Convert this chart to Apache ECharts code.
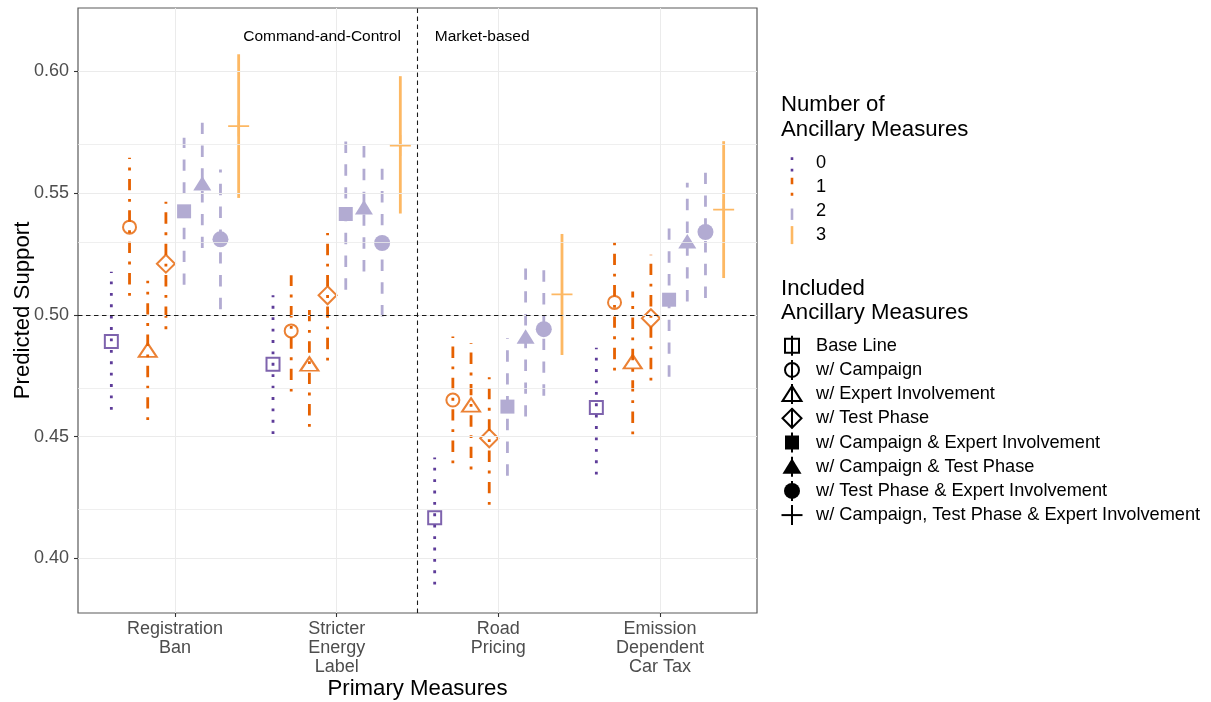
<!DOCTYPE html>
<html>
<head>
<meta charset="utf-8">
<script src="https://cdn.jsdelivr.net/npm/echarts@6/dist/echarts.min.js"></script>
<style>
  html, body { margin: 0; padding: 0; background: #fff; }
  #chart { width: 1211px; height: 702px; }
</style>
</head>
<body>
<div id="chart"></div>
<script>
// ---------------- DATA ----------------
const categories = ['Registration\nBan', 'Stricter\nEnergy\nLabel', 'Road\nPricing', 'Emission\nDependent\nCar Tax'];
const ancillaryMeasures = [
  'Base Line',
  'w/ Campaign',
  'w/ Expert Involvement',
  'w/ Test Phase',
  'w/ Campaign & Expert Involvement',
  'w/ Campaign & Test Phase',
  'w/ Test Phase & Expert Involvement',
  'w/ Campaign, Test Phase & Expert Involvement'
];
const numberOfMeasures = [0, 1, 1, 1, 2, 2, 2, 3];
const numberLevels = ['0', '1', '2', '3'];

const estRegistrationBan  = [0.489, 0.536, 0.4855, 0.521, 0.5425, 0.554, 0.531, 0.5775];
const lowRegistrationBan  = [0.461, 0.5078, 0.4568, 0.4941, 0.5123, 0.5274, 0.5023, 0.548];
const highRegistrationBan = [0.5177, 0.5645, 0.514, 0.5464, 0.5727, 0.5791, 0.5597, 0.607];

const estEnergyLabel  = [0.4797, 0.4934, 0.4798, 0.508, 0.5414, 0.5442, 0.5295, 0.5695];
const lowEnergyLabel  = [0.451, 0.4685, 0.454, 0.4812, 0.5103, 0.5178, 0.4993, 0.5416];
const highEnergyLabel = [0.508, 0.5162, 0.502, 0.5336, 0.5713, 0.5693, 0.56, 0.598];

const estRoadPricing  = [0.4167, 0.465, 0.463, 0.4493, 0.4623, 0.4911, 0.4941, 0.5084];
const lowRoadPricing  = [0.3892, 0.439, 0.4365, 0.422, 0.4339, 0.4582, 0.4668, 0.4835];
const highRoadPricing = [0.4414, 0.4911, 0.4883, 0.4744, 0.4904, 0.5195, 0.5185, 0.5332];

const estCarTax  = [0.4619, 0.5051, 0.4808, 0.4986, 0.5062, 0.5302, 0.534, 0.5432];
const lowCarTax  = [0.4344, 0.4771, 0.4509, 0.473, 0.4746, 0.5055, 0.5069, 0.5151];
const highCarTax = [0.4865, 0.5332, 0.5096, 0.5247, 0.5357, 0.5542, 0.5583, 0.5713];

const yTicks = [0.40, 0.45, 0.50, 0.55, 0.60];
const yMinorGrid = [0.425, 0.475, 0.525, 0.575, 0.625];
const referenceY = 0.5;
const referenceX = 2.5;
const annotations = [
  { x: 2.397, y: 0.6142, text: 'Command-and-Control', align: 'right' },
  { x: 2.607, y: 0.6142, text: 'Market-based', align: 'left' }
];

const est  = [estRegistrationBan, estEnergyLabel, estRoadPricing, estCarTax];
const low  = [lowRegistrationBan, lowEnergyLabel, lowRoadPricing, lowCarTax];
const high = [highRegistrationBan, highEnergyLabel, highRoadPricing, highCarTax];

// ---------------- STYLE ----------------
const FONT = '"Liberation Sans", Arial, sans-serif';
const levelColors = ['#5E3C99', '#E66101', '#B2ABD2', '#FDB863'];
const U = 2.85;
const levelDash = [[U, 3 * U], [U, 3 * U, 4 * U, 3 * U], [4 * U, 4 * U], null];
const ERR_W = 2.8;
const dodgeStep = 0.1125;
const plusPath = 'path://M0,10 L22,10 L22,12 L0,12 Z M10,0 L12,0 L12,22 L10,22 Z';
const shapeStyles = [
  { symbol: 'rect', size: 13, open: true },
  { symbol: 'circle', size: 13, open: true },
  { symbol: 'triangle', size: [18, 13.5], open: true },
  { symbol: 'diamond', size: 18, open: true },
  { symbol: 'rect', size: 14, open: false },
  { symbol: 'triangle', size: [18, 14.5], open: false },
  { symbol: 'circle', size: 16, open: false },
  { symbol: plusPath, size: 21, open: false }
];

const series = [];

// grid lines + reference lines (drawn via library scales)
series.push({
  type: 'scatter', data: [], silent: true, z: 0,
  markLine: {
    silent: true, symbol: 'none', label: { show: false }, animation: false,
    lineStyle: { color: '#ebebeb', width: 1, type: 'solid' },
    data: [
      ...yTicks.map(v => ({ yAxis: v })),
      ...yMinorGrid.map(v => ({ yAxis: v, lineStyle: { color: '#ebebeb', width: 0.8 } })),
      ...categories.map((c, i) => ({ xAxis: i + 1 }))
    ]
  }
});
series.push({
  type: 'scatter', data: [], silent: true, z: 1,
  markLine: {
    silent: true, symbol: 'none', label: { show: false }, animation: false,
    lineStyle: { color: '#1a1a1a', width: 1.1, type: [4.5, 3.5] },
    data: [{ yAxis: referenceY }, { xAxis: referenceX }]
  }
});

// annotations
series.push({
  type: 'custom', z: 5, silent: true,
  data: annotations.map(a => [a.x, a.y]),
  renderItem: (params, api) => {
    const a = annotations[params.dataIndex];
    const p = api.coord([api.value(0), api.value(1)]);
    return {
      type: 'text', x: p[0], y: p[1],
      style: { text: a.text, fontFamily: FONT, fontSize: 15.5, fill: '#000', align: a.align, verticalAlign: 'middle' }
    };
  }
});

ancillaryMeasures.forEach((name, a) => {
  const lvl = numberOfMeasures[a];
  const col = levelColors[lvl];
  const dash = levelDash[lvl];
  const xs = categories.map((c, ci) => ci + 1 + (a - 3.5) * dodgeStep);
  series.push({
    type: 'custom', name: name + ' CI', z: 2, silent: true,
    data: xs.map((x, ci) => [x, low[ci][a], high[ci][a]]),
    encode: { x: 0, y: [1, 2] },
    renderItem: (params, api) => {
      const p1 = api.coord([api.value(0), api.value(1)]);
      const p2 = api.coord([api.value(0), api.value(2)]);
      return {
        type: 'line',
        shape: { x1: p1[0], y1: p1[1], x2: p2[0], y2: p2[1] },
        style: { stroke: col, lineWidth: ERR_W, lineDash: dash, lineCap: 'butt', fill: null }
      };
    }
  });
  const s = shapeStyles[a];
  series.push({
    type: 'scatter', name: name, z: 3, silent: true,
    symbol: s.symbol, symbolSize: s.size,
    data: xs.map((x, ci) => [x, est[ci][a]]),
    itemStyle: s.open
      ? { color: 'rgba(0,0,0,0)', borderColor: col, borderWidth: 2 }
      : { color: col, borderWidth: 0, opacity: 1 }
  });
});

// ---------------- LEGEND (graphic) ----------------
const graphic = [];
const LX = 781, KX = 792, TX = 816;
const titleStyle = { fontFamily: FONT, fontSize: 22.2, fill: '#000', align: 'left', verticalAlign: 'middle' };
const itemStyle = { fontFamily: FONT, fontSize: 18.2, fill: '#000', align: 'left', verticalAlign: 'middle' };
graphic.push({ type: 'text', x: LX, y: 105, style: Object.assign({ text: 'Number of' }, titleStyle) });
graphic.push({ type: 'text', x: LX, y: 130, style: Object.assign({ text: 'Ancillary Measures' }, titleStyle) });
numberLevels.forEach((lv, i) => {
  const y = 162.5 + i * 24.2;
  graphic.push({
    type: 'line', x: KX, y: y,
    shape: { x1: 0, y1: 9, x2: 0, y2: -9 },
    style: { stroke: levelColors[i], lineWidth: 2.6, lineDash: levelDash[i], lineCap: 'butt' }
  });
  graphic.push({ type: 'text', x: TX, y: y, style: Object.assign({ text: lv }, itemStyle) });
});
graphic.push({ type: 'text', x: LX, y: 288.5, style: Object.assign({ text: 'Included' }, titleStyle) });
graphic.push({ type: 'text', x: LX, y: 312.5, style: Object.assign({ text: 'Ancillary Measures' }, titleStyle) });

function keyShape(a) {
  const openS = { fill: 'none', stroke: '#000', lineWidth: 2 };
  const fillS = { fill: '#000', stroke: null };
  switch (a) {
    case 0: return { type: 'rect', shape: { x: -7, y: -7, width: 14, height: 14 }, style: openS };
    case 1: return { type: 'circle', shape: { cx: 0, cy: 0, r: 7 }, style: openS };
    case 2: return { type: 'polygon', shape: { points: [[0, -8], [9.5, 7], [-9.5, 7]] }, style: openS };
    case 3: return { type: 'polygon', shape: { points: [[0, -9.5], [9.5, 0], [0, 9.5], [-9.5, 0]] }, style: openS };
    case 4: return { type: 'rect', shape: { x: -7, y: -7, width: 14, height: 14 }, style: fillS };
    case 5: return { type: 'polygon', shape: { points: [[0, -8.5], [9.5, 7], [-9.5, 7]] }, style: fillS };
    case 6: return { type: 'circle', shape: { cx: 0, cy: 0, r: 8 }, style: fillS };
    default: return { type: 'line', shape: { x1: -10.5, y1: 0, x2: 10.5, y2: 0 }, style: { stroke: '#000', lineWidth: 2 } };
  }
}
ancillaryMeasures.forEach((name, a) => {
  const y = 345.7 + a * 24.2;
  graphic.push({
    type: 'group', x: KX, y: y,
    children: [
      { type: 'line', shape: { x1: 0, y1: -10, x2: 0, y2: 10 }, style: { stroke: '#000', lineWidth: 2 } },
      keyShape(a)
    ]
  });
  graphic.push({ type: 'text', x: TX, y: y, style: Object.assign({ text: name }, itemStyle) });
});

// ---------------- CHART ----------------
const chart = echarts.init(document.getElementById('chart'), null, { renderer: 'canvas' });
chart.setOption({
  animation: false,
  backgroundColor: '#fff',
  grid: { left: 78, top: 8, width: 679, height: 605, show: true, borderColor: '#5a5a5a', borderWidth: 1.2, backgroundColor: '#fff', containLabel: false, outerBoundsMode: 'none' },
  xAxis: {
    type: 'value', min: 0.4, max: 4.6,
    name: 'Primary Measures', nameLocation: 'middle', nameGap: 65, nameMoveOverlap: false,
    nameTextStyle: { fontFamily: FONT, fontSize: 22.2, color: '#000' },
    axisLine: { show: false },
    axisTick: { show: true, length: 4, lineStyle: { color: '#333', width: 1.1 }, customValues: [1, 2, 3, 4] },
    axisLabel: {
      customValues: [1, 2, 3, 4], margin: 7,
      formatter: v => categories[Math.round(v) - 1] || '',
      fontFamily: FONT, fontSize: 18, color: '#4d4d4d', lineHeight: 19, align: 'center'
    },
    splitLine: { show: false }
  },
  yAxis: {
    type: 'value', min: 0.37754, max: 0.626,
    name: 'Predicted Support', nameLocation: 'middle', nameGap: 44, nameRotate: 90, nameMoveOverlap: false,
    nameTextStyle: { fontFamily: FONT, fontSize: 22.2, color: '#000' },
    axisLine: { show: false },
    axisTick: { show: true, length: 4, lineStyle: { color: '#333', width: 1.1 }, customValues: yTicks },
    axisLabel: {
      customValues: yTicks, margin: 9,
      formatter: v => v.toFixed(2),
      fontFamily: FONT, fontSize: 18, color: '#4d4d4d'
    },
    splitLine: { show: false }
  },
  series: series,
  graphic: graphic
});
</script>
</body>
</html>
